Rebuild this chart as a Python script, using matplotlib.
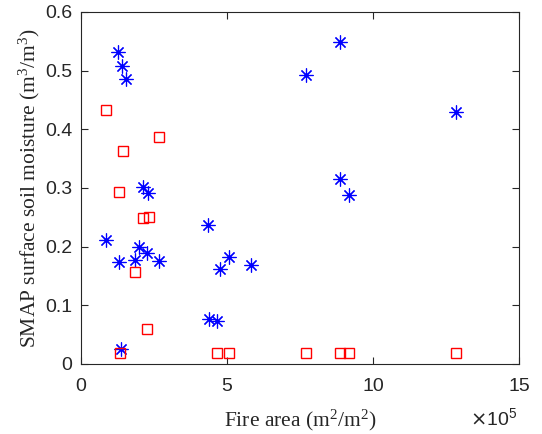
import numpy as np
import matplotlib
matplotlib.use('Agg')
import matplotlib.pyplot as plt

# fire area (m^2/m^2) and SMAP surface soil moisture for the two groups
star_area = [1.28e5, 1.41e5, 1.55e5, 7.71e5, 8.87e5, 12.85e5, 8.87e5, 9.18e5,
             2.14e5, 2.31e5, 0.87e5, 1.30e5, 2.00e5, 1.87e5, 2.28e5, 2.68e5,
             4.35e5, 5.09e5, 4.78e5, 5.83e5, 4.38e5, 4.68e5, 1.38e5]
star_sm = [0.532, 0.508, 0.486, 0.493, 0.549, 0.430, 0.315, 0.288,
           0.302, 0.292, 0.211, 0.174, 0.200, 0.178, 0.190, 0.175,
           0.237, 0.182, 0.162, 0.169, 0.077, 0.073, 0.025]

square_area = [0.86e5, 1.45e5, 2.68e5, 1.30e5, 2.14e5, 2.33e5, 1.87e5, 2.27e5,
               1.35e5, 4.65e5, 5.08e5, 7.71e5, 8.87e5, 9.18e5, 12.85e5]
square_sm = [0.433, 0.363, 0.387, 0.294, 0.248, 0.250, 0.157, 0.060,
             0.018, 0.018, 0.018, 0.018, 0.018, 0.018, 0.018]

x_ticks = [0, 5e5, 10e5, 15e5]
y_ticks = [0, 0.1, 0.2, 0.3, 0.4, 0.5, 0.6]
x_scale = 1e5

grey = '#262626'
tick_font = 'Liberation Sans'
label_font = 'Liberation Serif'

fig = plt.figure(figsize=(5.42, 4.34), dpi=100)
ax = fig.add_axes([0.149, 0.1613, 0.8086, 0.8111])

ax.plot(star_area, star_sm, linestyle='none', marker=(8, 2, 0),
        markersize=10, markeredgewidth=0.85, color='b')
ax.plot(square_area, square_sm, linestyle='none', marker='s',
        markersize=7.5, markeredgewidth=1.0, markeredgecolor='r',
        markerfacecolor='none')

ax.set_xlim(0, 15e5)
ax.set_ylim(0, 0.6)
ax.set_xticks(x_ticks)
ax.set_xticklabels(['%g' % (t / x_scale) for t in x_ticks])
ax.set_yticks(y_ticks)
ax.set_yticklabels(['%g' % t for t in y_ticks])

for s in ax.spines.values():
    s.set_color(grey)
    s.set_linewidth(0.8)
ax.tick_params(direction='in', length=5, width=0.8, colors=grey,
               top=True, right=True, labelsize=14)
ax.tick_params(axis='x', pad=10)
ax.tick_params(axis='y', pad=6)
for lab in ax.get_xticklabels() + ax.get_yticklabels():
    lab.set_fontfamily(tick_font)

# exponent for the x axis, drawn at the right end level with the x label
ax.text(0.995, -0.173, r'$\times\mathregular{10^5}$', transform=ax.transAxes,
        ha='right', va='baseline', fontsize=14, fontfamily=tick_font,
        color=grey)

ax.set_xlabel(r'Fire area (m$\mathregular{^2}$/m$\mathregular{^2}$)',
              fontfamily=label_font, fontsize=15.5, color=grey)
ax.set_ylabel(r'SMAP surface soil moisture (m$\mathregular{^3}$/m$\mathregular{^3}$)',
              fontfamily=label_font, fontsize=15.5, color=grey)
ax.xaxis.set_label_coords(0.5, -0.125)
ax.yaxis.set_label_coords(-0.089, 0.5)

fig.savefig('out.png', dpi=100)
